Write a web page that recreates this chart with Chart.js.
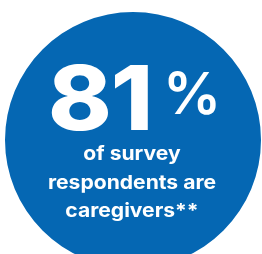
<!DOCTYPE html>
<html>
<head>
<meta charset="utf-8">
<script src="https://cdn.jsdelivr.net/npm/chart.js@4.4.1/dist/chart.umd.min.js"></script>
<style>
  html, body { margin: 0; padding: 0; background: #ffffff; }
  body { width: 262px; height: 254px; overflow: hidden; position: relative; font-family: "Inter", "Lato", sans-serif; color: #ffffff; }
  #wrap { position: absolute; left: 5px; top: 12px; width: 256px; height: 256px; }
  .txt { position: absolute; white-space: nowrap; }
  #big { left: 48px; top: 53px; font-size: 89px; line-height: 89px; font-weight: 800; letter-spacing: -1px; transform: scaleX(1.08); transform-origin: left top; }
  #pct { left: 163px; top: 64px; font-size: 58px; line-height: 58px; font-weight: 600; }
  #caption { left: 32px; width: 200px; top: 140px; font-size: 19px; line-height: 28.5px; font-weight: 700; text-align: center; transform: scaleX(1.11); transform-origin: center top; }
</style>
</head>
<body>
<div id="wrap"><canvas id="circle" width="256" height="256"></canvas></div>
<div class="txt" id="big"></div>
<div class="txt" id="pct"></div>
<div class="txt" id="caption"></div>
<script>
const labels = ["Survey respondents"];
const values = [100];
const headlineValue = 81;
const headlineUnit = "%";
const captionLines = ["of survey", "respondents are", "caregivers**"];

document.addEventListener("DOMContentLoaded", function () {
  const circle = document.getElementById("circle");
  new Chart(circle, {
    type: "pie",
    data: {
      labels: labels,
      datasets: [
        {
          data: values,
          backgroundColor: ["#0567b3"],
          borderWidth: 0,
        },
      ],
    },
    options: {
      responsive: false,
      animation: false,
      layout: { padding: 0 },
      plugins: {
        legend: { display: false },
        tooltip: { enabled: false },
      },
    },
  });

  // headline number and caption are plain text laid over the circle
  document.getElementById("big").textContent = String(headlineValue);
  document.getElementById("pct").textContent = headlineUnit;
  document.getElementById("caption").innerHTML = captionLines.join("<br>");
});
</script>
</body>
</html>
